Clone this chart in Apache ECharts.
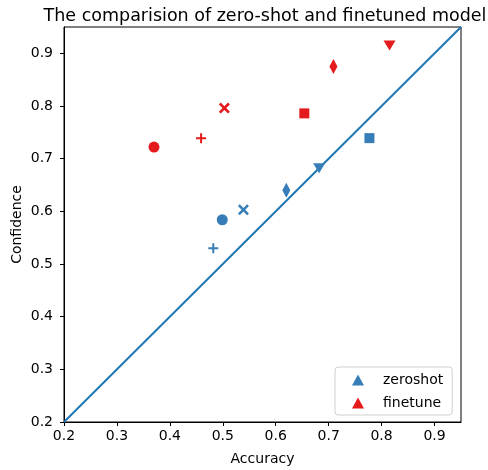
<!DOCTYPE html>
<html><head><meta charset="utf-8">
<script src="https://cdn.jsdelivr.net/npm/echarts@6/dist/echarts.min.js"></script>
<style>html,body{margin:0;padding:0;background:#fff}#c{width:488px;height:470px}</style>
</head><body><div id="c"></div>
<script>
const markers = ['circle','plus','cross','diamond','triangleDown','square'];
const zeroshotAcc = [0.499, 0.482, 0.539, 0.620, 0.682, 0.777];
const zeroshotConf = [0.584, 0.530, 0.603, 0.640, 0.682, 0.739];
const finetuneAcc = [0.370, 0.459, 0.503, 0.709, 0.815, 0.654];
const finetuneConf = [0.722, 0.739, 0.796, 0.875, 0.915, 0.786];
const finetuneMarkers = ['circle','plus','cross','diamond','triangleDown','square'];
const ticks = [0.2,0.3,0.4,0.5,0.6,0.7,0.8,0.9];
const diag = [[0.2,0.2],[0.95,0.95]];

const PLUS = 'path://M4,0H6V4H10V6H6V10H4V6H0V4H4Z';
function sym(m){
  switch(m){
    case 'circle': return {symbol:'circle', symbolSize:11};
    case 'plus': return {symbol:PLUS, symbolSize:10};
    case 'cross': return {symbol:PLUS, symbolSize:13, symbolRotate:45};
    case 'diamond': return {symbol:'diamond', symbolSize:[8,15]};
    case 'triangleDown': return {symbol:'triangle', symbolSize:[12,10], symbolRotate:180};
    case 'square': return {symbol:'rect', symbolSize:10};
  }
}
function build(xs, ys, ms){
  return xs.map((x,i)=>Object.assign({value:[x,ys[i]]}, sym(ms[i])));
}
const FONT = 'DejaVu Sans';
const axisCommon = {
  type:'value', min:0.2, max:0.95,
  axisLine:{show:true, onZero:false, lineStyle:{color:'#000', width:1}},
  axisTick:{show:true, length:4, lineStyle:{color:'#000'}, customValues:ticks},
  axisLabel:{color:'#000', fontFamily:FONT, fontSize:14, customValues:ticks, formatter:v=>v.toFixed(1)},
  splitLine:{show:false},
  nameLocation:'middle',
  nameMoveOverlap:false,
  nameTextStyle:{color:'#000', fontFamily:FONT, fontSize:14}
};
const chart = echarts.init(document.getElementById('c'), null, {renderer:'canvas'});
chart.setOption({
  animation:false,
  backgroundColor:'#fff',
  title:{text:'The comparision of zero-shot and finetuned model', left:260, textAlign:'center', top:2,
    textStyle:{fontFamily:FONT, fontSize:17.5, fontWeight:'normal', color:'#000'}},
  grid:{left:64, right:27, top:27, bottom:48, show:true, borderColor:'#000', borderWidth:1, backgroundColor:'transparent', containLabel:false, outerBoundsMode:'none'},
  xAxis:Object.assign({}, axisCommon, {name:'Accuracy', nameGap:30, axisLabel:Object.assign({}, axisCommon.axisLabel, {margin:7})}),
  yAxis:Object.assign({}, axisCommon, {name:'Confidence', nameGap:40, nameRotate:90, axisLabel:Object.assign({}, axisCommon.axisLabel, {margin:11})}),
  legend:{
    orient:'vertical', left:335, top:367, padding:[5,9,4,17],
    backgroundColor:'#fff', borderColor:'#d0d0d0', borderWidth:1, borderRadius:3,
    itemWidth:12, itemHeight:11, itemGap:7,
    textStyle:{fontFamily:FONT, fontSize:14, color:'#000', padding:[0,0,0,14], lineHeight:16},
    data:[{name:'zeroshot', icon:'triangle'},{name:'finetune', icon:'triangle'}]
  },
  series:[
    {type:'line', name:'diag', data:diag, showSymbol:false, symbol:'none', lineStyle:{color:'#1f77b4', width:2}, z:1, silent:true},
    {type:'scatter', name:'zeroshot', itemStyle:{color:'#377eb8', opacity:1}, data:build(zeroshotAcc, zeroshotConf, markers), z:3},
    {type:'scatter', name:'finetune', itemStyle:{color:'#e41a1c', opacity:1}, data:build(finetuneAcc, finetuneConf, finetuneMarkers), z:3}
  ]
});
</script></body></html>
